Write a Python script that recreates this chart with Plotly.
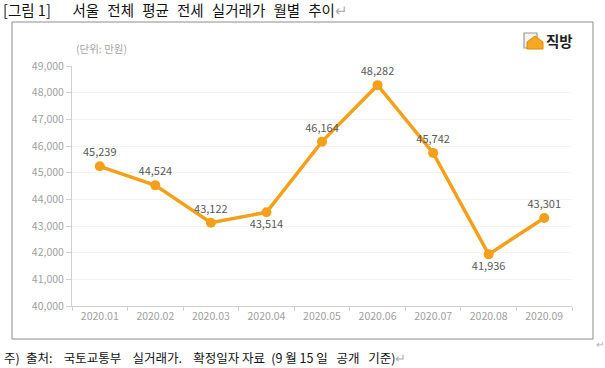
import plotly.graph_objects as go

months = ["2020.01", "2020.02", "2020.03", "2020.04", "2020.05", "2020.06", "2020.07", "2020.08", "2020.09"]
prices = [45239, 44524, 43122, 43514, 46164, 48282, 45742, 41936, 43301]
label_pos = ["top center", "top center", "top center", "bottom center", "top center",
             "top center", "top center", "bottom center", "top center"]
y_ticks = [40000, 41000, 42000, 43000, 44000, 45000, 46000, 47000, 48000, 49000]

W, H = 605, 368
ML, MR, MT, MB = 72, 33, 66, 62
FONT = "Noto Sans CJK KR, Open Sans, sans-serif"
ORANGE = "#F5A01A"

TG = "\u2002\u200a"            # title word gap
BIG = "\u2003\u2002"           # extra wide gap after figure number
G = "\u2002\u2009\u2009"       # footer word gap

fig = go.Figure()
fig.add_trace(go.Scatter(
    x=months, y=prices, mode="lines+markers+text",
    line=dict(color=ORANGE, width=3.5),
    marker=dict(color=ORANGE, size=10),
    text=[f"{v:,}" for v in prices],
    textposition=label_pos,
    textfont=dict(size=11, color="#595959", family=FONT),
    cliponaxis=False,
    hoverinfo="skip",
))

def px2paper_x(px):
    return (px - ML) / (W - ML - MR)

def px2paper_y(py):
    return 1 - (py - MT) / (H - MT - MB)

# chart border box
fig.add_shape(type="rect", xref="paper", yref="paper",
              x0=px2paper_x(12), x1=px2paper_x(593), y0=px2paper_y(339), y1=px2paper_y(22),
              line=dict(color="#8c8c8c", width=1), fillcolor="rgba(0,0,0,0)", layer="below")

# logo icon: gray document + orange house
fig.add_shape(type="rect", xref="paper", yref="paper",
              x0=px2paper_x(524), x1=px2paper_x(537), y0=px2paper_y(48), y1=px2paper_y(33),
              line=dict(color="#9a9a9a", width=1.2), fillcolor="#f4f4f4")
hx0, hx1 = px2paper_x(527), px2paper_x(543)
hyb, hym, hyt = px2paper_y(49), px2paper_y(42), px2paper_y(36)
hxm = px2paper_x(535)
fig.add_shape(type="path", xref="paper", yref="paper",
              path=f"M {hx0} {hyb} L {hx0} {hym} L {hxm} {hyt} L {hx1} {hym} L {hx1} {hyb} Z",
              line=dict(color="#E08A00", width=1), fillcolor="#F7A823")

title_txt = ("[그림 1]" + BIG + "서울" + TG + "전체" + TG + "평균" + TG + "전세" + TG +
             "실거래가" + TG + "월별" + TG + "추이" + "<span style='color:#b0b0b0'>↵</span>")
foot_txt = ("주)" + "\u2002" + "출처:" + G + "국토교통부" + G + "실거래가." + G +
            "확정일자 자료" + "\u2002" + "(9 월 15 일" + "\u2002\u2009" + "공개" + "\u2002\u2009" + "기준)" +
            "<span style='color:#b0b0b0'>↵</span>")

annos = [
    dict(text=title_txt,
         x=px2paper_x(1), y=px2paper_y(10), xanchor="left", yanchor="middle",
         font=dict(size=14.5, color="#111111", family=FONT)),
    dict(text=foot_txt,
         x=px2paper_x(2), y=px2paper_y(357), xanchor="left", yanchor="middle",
         font=dict(size=12.5, color="#111111", family=FONT)),
    dict(text="↵", x=px2paper_x(594), y=px2paper_y(343), xanchor="left", yanchor="middle",
         font=dict(size=10, color="#b0b0b0", family=FONT)),
    dict(text="(단위: 만원)", x=px2paper_x(74), y=px2paper_y(48), xanchor="left", yanchor="middle",
         font=dict(size=10.5, color="#a6a6a6", family=FONT)),
    dict(text="<b>직방</b>", x=px2paper_x(544), y=px2paper_y(41), xanchor="left", yanchor="middle",
         font=dict(size=14.5, color="#222222", family=FONT)),
]
for a in annos:
    a.update(xref="paper", yref="paper", showarrow=False)
fig.update_layout(annotations=annos)

fig.update_layout(
    width=W, height=H,
    margin=dict(l=ML, r=MR, t=MT, b=MB),
    paper_bgcolor="white", plot_bgcolor="white",
    showlegend=False,
    font=dict(family=FONT),
    xaxis=dict(
        type="category", categoryorder="array", categoryarray=months,
        range=[-0.5, len(months) - 0.5],
        showgrid=False, showline=True, linecolor="#d0d0d0", linewidth=1,
        ticks="outside", tickson="boundaries", ticklen=4, tickcolor="#d0d0d0",
        tickfont=dict(size=10.5, color="#a0a0a0", family=FONT),
        fixedrange=True,
    ),
    yaxis=dict(
        range=[40000, 49000], tickvals=y_ticks,
        ticktext=[f"{v:,}" for v in y_ticks],
        showgrid=True, gridcolor="#f3f3f3", gridwidth=1,
        showline=True, linecolor="#d0d0d0", linewidth=1,
        ticks="outside", ticklen=5, tickcolor="#d0d0d0",
        tickfont=dict(size=10.5, color="#a0a0a0", family=FONT),
        zeroline=False, fixedrange=True,
    ),
)

fig.write_html(
    "out.html",
    config={"displayModeBar": False},
    post_script="document.body.style.margin='0px';document.body.style.overflow='hidden';",
)
